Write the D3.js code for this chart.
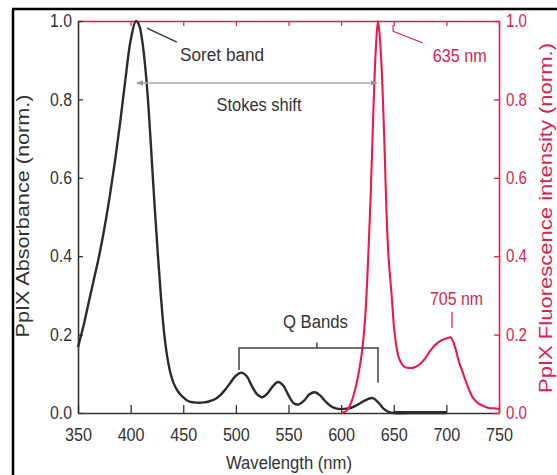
<!DOCTYPE html>
<html><head><meta charset="utf-8">
<script src="https://cdn.jsdelivr.net/npm/d3@7"></script>
<style>
html,body{margin:0;padding:0;background:#fff;}
svg{display:block;}
text{font-family:"Liberation Sans",Arial,Helvetica,sans-serif;}
</style></head>
<body>
<svg id="chart" width="557" height="475"></svg>
<script>
// ---- data ----
const absWavelength = [350,355,360,365,370,375,380,385,390,395,400,405,408,411,414,417,420,423,426,429,432,435,438,441,445,450,455,460,465,470,475,480,485,490,495,500,505,510,515,520,525,530,535,540,545,550,555,560,565,570,575,580,585,590,595,600,605,610,615,620,625,630,635,640,645,650,675,700];
const absValue = [0.168,0.22,0.28,0.34,0.40,0.47,0.55,0.64,0.74,0.85,0.95,1.0,0.99,0.95,0.88,0.78,0.65,0.52,0.40,0.29,0.20,0.14,0.10,0.075,0.055,0.04,0.03,0.027,0.026,0.027,0.03,0.035,0.045,0.06,0.078,0.095,0.103,0.095,0.07,0.048,0.04,0.05,0.068,0.079,0.07,0.045,0.025,0.022,0.032,0.048,0.053,0.045,0.03,0.018,0.012,0.01,0.011,0.014,0.02,0.028,0.035,0.038,0.028,0.012,0.003,0.0,0.0,0.0];
const fluWavelength = [600,605,610,615,620,623,625,628,631,633,635,637,639,641,643,645,648,651,655,660,665,670,675,680,685,690,695,700,704,708,712,716,720,725,730,735,740,745,750];
const fluValue = [0.0,0.005,0.03,0.08,0.16,0.25,0.35,0.55,0.80,0.93,1.0,0.95,0.85,0.70,0.52,0.40,0.30,0.20,0.14,0.118,0.115,0.117,0.125,0.14,0.16,0.175,0.185,0.19,0.193,0.17,0.13,0.10,0.07,0.04,0.025,0.018,0.013,0.012,0.01];
const xTicks = [350,400,450,500,550,600,650,700,750];
const yTicks = [0.0,0.2,0.4,0.6,0.8,1.0];
const xTitle = "Wavelength (nm)";
const yLeftTitle = "PpIX Absorbance (norm.)";
const yRightTitle = "PpIX Fluorescence intensity (norm.)";

// ---- layout ----
const RED = "#e8194c", RED_TXT = "#d8234f", DARK = "#2b2b2b";
const svg = d3.select("#chart");
const x = d3.scaleLinear().domain([350,750]).range([78,499]);
const y = d3.scaleLinear().domain([0,1]).range([413,21]);

// outer frame (black, left & top)
svg.append("line").attr("x1",13).attr("x2",13).attr("y1",9).attr("y2",475).attr("stroke","#000").attr("stroke-width",2.5);
svg.append("line").attr("x1",12).attr("x2",557).attr("y1",9).attr("y2",9).attr("stroke","#000").attr("stroke-width",2.5);

function fitLabels(g, w){
  g.selectAll(".tick text").attr("textLength", w).attr("lengthAdjust","spacingAndGlyphs");
}

// bottom axis
const gB = svg.append("g").attr("transform",`translate(0,${y(0)})`)
  .call(d3.axisBottom(x).tickValues(xTicks).tickSizeInner(-8).tickSizeOuter(0).tickPadding(15));
gB.select(".domain").attr("stroke","#333").attr("stroke-width",1.6);
gB.selectAll(".tick line").attr("stroke","#333").attr("stroke-width",1.3);
gB.selectAll(".tick text").attr("font-size",18).attr("fill","#333").attr("font-family","Liberation Sans, Arial, sans-serif");
fitLabels(gB, 27);

// top axis (red, ticks only)
const gT = svg.append("g").attr("transform",`translate(0,${y(1)})`)
  .call(d3.axisTop(x).tickValues(xTicks).tickSizeInner(-5).tickSizeOuter(0).tickFormat(""));
gT.select(".domain").attr("stroke",RED).attr("stroke-width",1.6);
gT.selectAll(".tick line").attr("stroke",RED).attr("stroke-width",1.2);

// left axis
const gL = svg.append("g").attr("transform",`translate(${x(350)},0)`)
  .call(d3.axisLeft(y).tickValues(yTicks).tickSizeInner(-5).tickSizeOuter(0).tickPadding(6).tickFormat(d3.format(".1f")));
gL.select(".domain").attr("stroke","#333").attr("stroke-width",1.6);
gL.selectAll(".tick line").attr("stroke","#333").attr("stroke-width",1.3);
gL.selectAll(".tick text").attr("font-size",18).attr("fill","#333").attr("font-family","Liberation Sans, Arial, sans-serif");
fitLabels(gL, 22);

// right axis (red)
const gR = svg.append("g").attr("transform",`translate(${x(750)},0)`)
  .call(d3.axisRight(y).tickValues(yTicks).tickSizeInner(-5).tickSizeOuter(0).tickPadding(7).tickFormat(d3.format(".1f")));
gR.select(".domain").attr("stroke",RED).attr("stroke-width",1.6);
gR.selectAll(".tick line").attr("stroke",RED).attr("stroke-width",1.3);
gR.selectAll(".tick text").attr("font-size",18).attr("fill",RED_TXT).attr("font-family","Liberation Sans, Arial, sans-serif");
fitLabels(gR, 21);

// axis titles
svg.append("text").attr("x",289).attr("y",469).attr("text-anchor","middle")
  .attr("font-size",18).attr("fill","#333").attr("textLength",126).attr("lengthAdjust","spacingAndGlyphs").text(xTitle);
svg.append("text").attr("transform","translate(29,216) rotate(-90)").attr("text-anchor","middle")
  .attr("font-size",18).attr("fill","#333").attr("textLength",243).attr("lengthAdjust","spacingAndGlyphs").text(yLeftTitle);
svg.append("text").attr("transform","translate(552,218) rotate(-90)").attr("text-anchor","middle")
  .attr("font-size",18).attr("fill",RED_TXT).attr("textLength",350).attr("lengthAdjust","spacingAndGlyphs").text(yRightTitle);

// curves
const absData = absWavelength.map((w,i)=>[w,absValue[i]]);
const fluData = fluWavelength.map((w,i)=>[w,fluValue[i]]);
const line = d3.line().x(d=>x(d[0])).y(d=>y(d[1])).curve(d3.curveCatmullRom.alpha(0.5));
svg.append("path").datum(absData).attr("d",line).attr("fill","none").attr("stroke",DARK).attr("stroke-width",2.4).attr("stroke-linejoin","round");
svg.append("path").datum(fluData).attr("d",line).attr("fill","none").attr("stroke",RED).attr("stroke-width",2.1).attr("stroke-linejoin","round");
// flat baseline segment drawn heavier along the axis (650–700 nm)
svg.append("line").attr("x1",x(650)).attr("x2",x(700)).attr("y1",y(0)-1).attr("y2",y(0)-1).attr("stroke",DARK).attr("stroke-width",2.2);

// annotations
// Soret band
svg.append("line").attr("x1",x(415.5)).attr("y1",y(0.982)).attr("x2",x(444)).attr("y2",y(0.946)).attr("stroke","#333").attr("stroke-width",1.4);
svg.append("text").attr("x",x(447)).attr("y",y(0.898)).attr("font-size",18).attr("fill","#333")
  .attr("textLength",84).attr("lengthAdjust","spacingAndGlyphs").text("Soret band");

// Stokes shift arrow
const defs = svg.append("defs");
defs.append("marker").attr("id","ah").attr("viewBox","0 0 10 10").attr("refX",9).attr("refY",5)
  .attr("markerWidth",5).attr("markerHeight",5).attr("orient","auto-start-reverse")
  .append("path").attr("d","M0,1 L10,5 L0,9 z").attr("fill","#999");
svg.append("line").attr("x1",x(406)).attr("x2",x(634)).attr("y1",y(0.842)).attr("y2",y(0.842))
  .attr("stroke","#a8a8a8").attr("stroke-width",1.4).attr("marker-start","url(#ah)").attr("marker-end","url(#ah)");
svg.append("text").attr("x",x(522)).attr("y",y(0.77)).attr("text-anchor","middle").attr("font-size",18).attr("fill","#333")
  .attr("textLength",85).attr("lengthAdjust","spacingAndGlyphs").text("Stokes shift");

// 635 nm
svg.append("line").attr("x1",x(649.3)).attr("y1",y(0.99)).attr("x2",x(649.3)).attr("y2",y(0.974)).attr("stroke",RED).attr("stroke-width",1.2);
svg.append("line").attr("x1",x(649.3)).attr("y1",y(0.974)).attr("x2",x(677.8)).attr("y2",y(0.944)).attr("stroke",RED).attr("stroke-width",1.2);
svg.append("text").attr("x",x(687)).attr("y",y(0.895)).attr("font-size",18).attr("fill",RED_TXT)
  .attr("textLength",54).attr("lengthAdjust","spacingAndGlyphs").text("635 nm");

// 705 nm
svg.append("line").attr("x1",x(705.3)).attr("x2",x(705.3)).attr("y1",y(0.258)).attr("y2",y(0.217)).attr("stroke",RED).attr("stroke-width",1.2);
svg.append("text").attr("x",x(709.6)).attr("y",y(0.276)).attr("text-anchor","middle").attr("font-size",18).attr("fill",RED_TXT)
  .attr("textLength",53).attr("lengthAdjust","spacingAndGlyphs").text("705 nm");

// Q Bands bracket
const qb = d3.path();
qb.moveTo(x(503), y(0.11)); qb.lineTo(x(503), y(0.166)); qb.lineTo(x(635), y(0.166)); qb.lineTo(x(635), y(0.077));
qb.moveTo(x(577), y(0.166)); qb.lineTo(x(577), y(0.18));
svg.append("path").attr("d",qb.toString()).attr("fill","none").attr("stroke","#444").attr("stroke-width",1.5);
svg.append("text").attr("x",x(575.6)).attr("y",y(0.217)).attr("text-anchor","middle").attr("font-size",18).attr("fill","#333")
  .attr("textLength",65).attr("lengthAdjust","spacingAndGlyphs").text("Q Bands");
</script>
</body></html>
